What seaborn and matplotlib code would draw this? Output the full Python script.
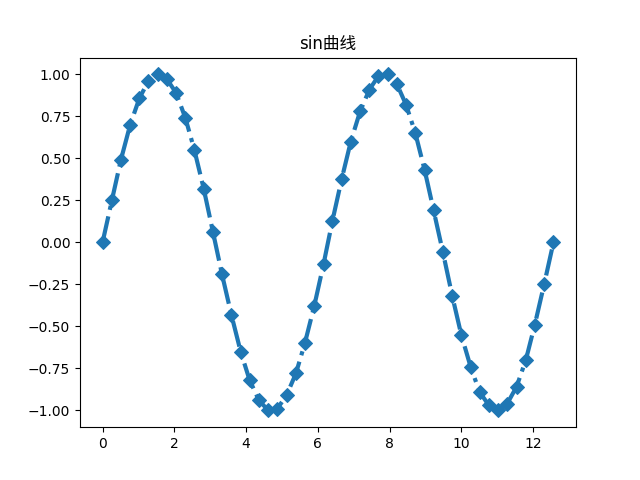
import numpy as np
import pandas as pd
import matplotlib
matplotlib.use('Agg')
import matplotlib.pyplot as plt
import seaborn as sns

###############################################################################

x_vals = [0.00, 0.26, 0.51, 0.77, 1.03, 1.28, 1.54, 1.80, 2.05, 2.31,
          2.56, 2.82, 3.08, 3.33, 3.59, 3.85, 4.10, 4.36, 4.62, 4.87,
          5.13, 5.39, 5.64, 5.90, 6.16, 6.41, 6.67, 6.92, 7.18, 7.44,
          7.69, 7.95, 8.21, 8.46, 8.72, 8.98, 9.23, 9.49, 9.75, 10.00,
          10.26, 10.51, 10.77, 11.03, 11.28, 11.54, 11.80, 12.05, 12.31,
          12.57]

y_vals = [0.00, 0.25, 0.49, 0.70, 0.86, 0.96, 1.00, 0.97, 0.89, 0.74,
          0.55, 0.32, 0.06, -0.19, -0.43, -0.65, -0.82, -0.94, -1.00, -0.99,
          -0.91, -0.78, -0.60, -0.38, -0.13, 0.13, 0.38, 0.60, 0.78, 0.91,
          0.99, 1.00, 0.94, 0.82, 0.65, 0.43, 0.19, -0.06, -0.32, -0.55,
          -0.74, -0.89, -0.97, -1.00, -0.96, -0.86, -0.70, -0.49, -0.25,
          0.00]

title_str = 'sin曲线'

###############################################################################

if __name__ == "__main__":

    plt.rcParams['font.family'] = ['DejaVu Sans', 'Noto Sans CJK SC']

    df = pd.DataFrame({'x': x_vals, 'y': y_vals})

    fig, ax = plt.subplots(figsize=(6.4, 4.8), dpi=100)

    sns.lineplot(data=df, x='x', y='y', ax=ax, color='#1f77b4',
                 linestyle='-.', linewidth=3, marker='D', markersize=7,
                 markeredgecolor='#1f77b4', sort=False)

    ax.set_title(title_str)
    ax.set_xlabel('')
    ax.set_ylabel('')

    plt.savefig('out.png', dpi=100)
